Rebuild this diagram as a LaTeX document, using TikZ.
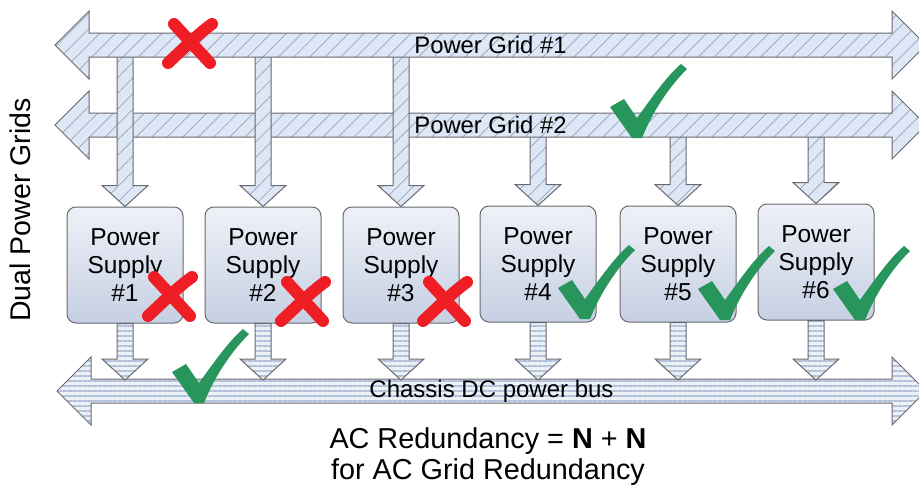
\documentclass[tikz,border=0pt]{standalone}
\usepackage{fontspec}
\setmainfont{Liberation Sans}
\usetikzlibrary{calc,patterns.meta}

\definecolor{skyfill}{RGB}{222,231,245}
\definecolor{hatchgray}{RGB}{150,162,184}
\definecolor{stripelight}{RGB}{236,241,248}
\definecolor{stripedark}{RGB}{178,193,218}
\definecolor{edgegray}{RGB}{105,105,110}
\definecolor{boxhi}{RGB}{238,241,247}
\definecolor{boxlo}{RGB}{198,208,227}
\definecolor{crossred}{RGB}{238,30,36}
\definecolor{tickgreen}{RGB}{40,150,92}

\tikzset{
  hatched/.style={preaction={fill=skyfill},pattern={Lines[angle=45,distance=11pt,line width=.7pt]},
    pattern color=hatchgray,draw=edgegray,line width=1pt},
  striped/.style={preaction={fill=stripelight},pattern={Lines[angle=0,distance=5pt,line width=2pt]},
    pattern color=stripedark,draw=edgegray,line width=1pt},
  supply/.style={draw=edgegray,line width=1pt,rounded corners=9pt,minimum width=116pt,minimum height=116pt,
    top color=boxhi,bottom color=boxlo,align=center,inner sep=0pt,font=\fontsize{24.5}{28}\selectfont},
  downblock/.style={to path={let \p1=(\tikztostart), \p2=(\tikztotarget) in
    (\x1-8pt,\y1) -- (\x1-8pt,\y2+21pt) -- (\x1-23pt,\y2+21pt) -- (\x1,\y2)
    -- (\x1+23pt,\y2+21pt) -- (\x1+8pt,\y2+21pt) -- (\x1+8pt,\y1) -- cycle}},
  bothblock/.style={to path={let \p1=(\tikztostart), \p2=(\tikztotarget) in
    (\x1,\y1) -- (\x1+34pt,\y1+34pt) -- (\x1+34pt,\y1+12pt) -- (\x2-34pt,\y1+12pt)
    -- (\x2-34pt,\y1+34pt) -- (\x2,\y1) -- (\x2-34pt,\y1-34pt) -- (\x2-34pt,\y1-12pt)
    -- (\x1+34pt,\y1-12pt) -- (\x1+34pt,\y1-34pt) -- cycle}},
  xstroke/.style={draw=crossred,line width=12pt,line cap=round},
  failmark/.pic={
    \draw[xstroke] (-16,-18) -- (20,21);
    \draw[xstroke] (22,-18) .. controls (8,-8) and (-8,8) .. (-22,21);},
  okmark/.pic={
    \fill[tickgreen] (0,44) -- (14,36) -- (27,55) .. controls (45,30) and (58,12) .. (71,1)
      -- (77,6) .. controls (58,25) and (42,50) .. (32,75) -- (22,75) -- cycle;},
}

\begin{document}
\begin{tikzpicture}[x=1pt,y=-1pt]
\useasboundingbox (0,0) rectangle (919,491);

% ends of the grids and of the bus
\coordinate (g1w) at (55,45);
\coordinate (g1e) at (926,45);
\coordinate (g2w) at (55,125);
\coordinate (g2e) at (926,125);
\coordinate (busw) at (57,391);
\coordinate (buse) at (926,391);
\coordinate (bustop) at (57,380);

% power supplies
\node[supply] (ps1) at (125,265) {Power\\Supply\\\#1};
\node[supply] (ps2) at (263,265) {Power\\Supply\\\#2};
\node[supply] (ps3) at (401,265) {Power\\Supply\\\#3};
\node[supply] (ps4) at (538,264) {Power\\Supply\\\#4};
\node[supply] (ps5) at (678,264) {Power\\Supply\\\#5};
\node[supply] (ps6) at (816,262) {Power\\Supply\\\#6};

% grid 2 feeds
\draw[hatched,downblock] (ps4.north |- g2w) to (ps4.north);
\draw[hatched,downblock] (ps5.north |- g2w) to (ps5.north);
\draw[hatched,downblock] (ps6.north |- g2w) to (ps6.north);
\draw[hatched,bothblock] (g2w) to (g2e);

% grid 1 feeds
\draw[hatched,downblock] (ps1.north |- g1w) to (ps1.north);
\draw[hatched,downblock] (ps2.north |- g1w) to (ps2.north);
\draw[hatched,downblock] (ps3.north |- g1w) to (ps3.north);
\draw[hatched,bothblock] (g1w) to (g1e);

% DC bus
\draw[striped,bothblock] (busw) to (buse);
\draw[striped,downblock] (ps1.south) to (ps1.south |- bustop);
\draw[striped,downblock] (ps2.south) to (ps2.south |- bustop);
\draw[striped,downblock] (ps3.south) to (ps3.south |- bustop);
\draw[striped,downblock] (ps4.south) to (ps4.south |- bustop);
\draw[striped,downblock] (ps5.south) to (ps5.south |- bustop);
\draw[striped,downblock] (ps6.south) to (ps6.south |- bustop);

% labels
\node[font=\fontsize{23.8}{26}\selectfont] (g1lbl) at ($(g1w)!.5!(g1e)$) {Power Grid \#1};
\node[font=\fontsize{23.8}{26}\selectfont] (g2lbl) at ($(g2w)!.5!(g2e)$) {Power Grid \#2};
\node[font=\fontsize{24}{26}\selectfont] (buslbl) at ($(busw)!.5!(buse)$) {Chassis DC power bus};
\node[font=\fontsize{28.5}{30}\selectfont,rotate=90] (side) at (20,210) {Dual Power Grids};
\node[font=\fontsize{28.8}{31}\selectfont,align=center] (caption) at (488,457)
  {AC Redundancy = \textbf{N} + \textbf{N}\\for AC Grid Redundancy};

% failed and working paths
\pic at (190,42) {failmark};
\pic at (170,295) {failmark};
\pic at (303,300) {failmark};
\pic at (445,300) {failmark};
\pic at (610,63) {okmark};
\pic at (172,328) {okmark};
\pic at (558,244) {okmark};
\pic at (698,245) {okmark};
\pic at (833,245) {okmark};
\end{tikzpicture}
\end{document}
